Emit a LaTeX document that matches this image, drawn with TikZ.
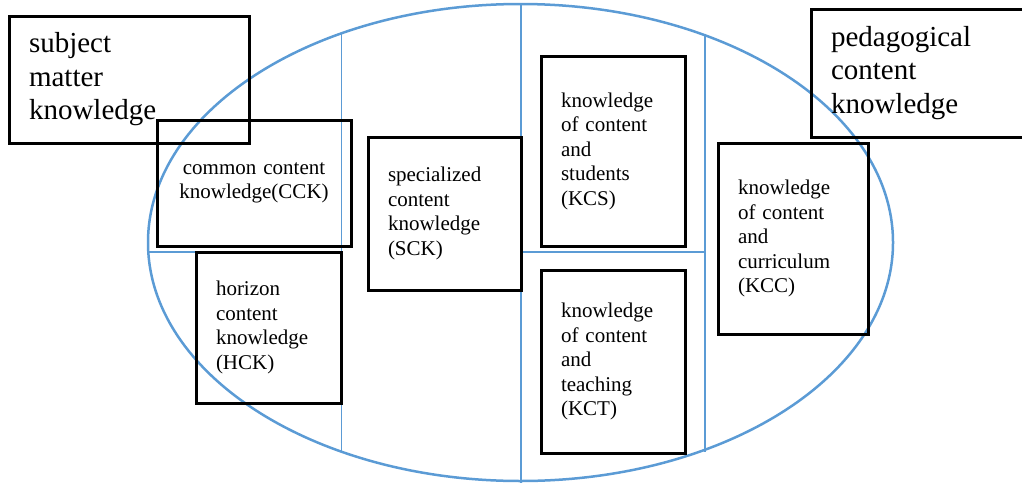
\documentclass[tikz,border=0pt]{standalone}
\usepackage{fontspec}
\setmainfont{Liberation Serif}
\usetikzlibrary{positioning}
\definecolor{ovalblue}{HTML}{5B9BD5}

\tikzset{
  kbox/.style={draw, line width=3pt, rectangle, align=left, inner xsep=20pt,
    font=\fontsize{21}{24.5}\selectfont},
  bigkbox/.style={kbox, font=\fontsize{29}{33.5}\selectfont},
  divider/.style={ovalblue, line width=1.1pt}
}

\begin{document}
\begin{tikzpicture}[x=1pt,y=-1pt]
\useasboundingbox (0,0) rectangle (1022,482);

\draw[ovalblue, line width=2.5pt] (520.5,242.5) ellipse [x radius=372.5pt, y radius=238.5pt];
\draw[divider] (341.5,33.5) -- (341.5,451.5);
\draw[divider] (521,4) -- (521,484);
\draw[divider] (705,33.5) -- (705,451.5);
\draw[divider] (149,252) -- (341.5,252);
\draw[divider] (521,252) -- (705,252);

\node[bigkbox, text width=200pt, minimum height=127pt] (smk) at (129,79.5) {subject\\matter\\knowledge};
\node[bigkbox, text width=173pt, minimum height=128pt] (pck) at (917.5,73) {pedagogical\\content\\knowledge};

\node[kbox, align=center, text width=154pt, minimum height=126pt] (cck) at (254,183) {common content\\knowledge(CCK)};
\node[kbox, text width=105pt, minimum height=151pt] (hck) at (268.5,327.5) {horizon\\content\\knowledge\\(HCK)};
\node[kbox, text width=113pt, minimum height=153pt] (sck) at (444.5,213.5) {specialized\\content\\knowledge\\(SCK)};
\node[kbox, text width=104pt, minimum height=190pt] (kcs) at (613,151) {knowledge\\of content\\and\\students\\(KCS)};
\node[kbox, text width=104pt, minimum height=183pt] (kct) at (613,361.5) {knowledge\\of content\\and\\teaching\\(KCT)};
\node[kbox, text width=110pt, minimum height=191pt] (kcc) at (793,238.5) {knowledge\\of content\\and\\curriculum\\(KCC)};

\end{tikzpicture}
\end{document}
